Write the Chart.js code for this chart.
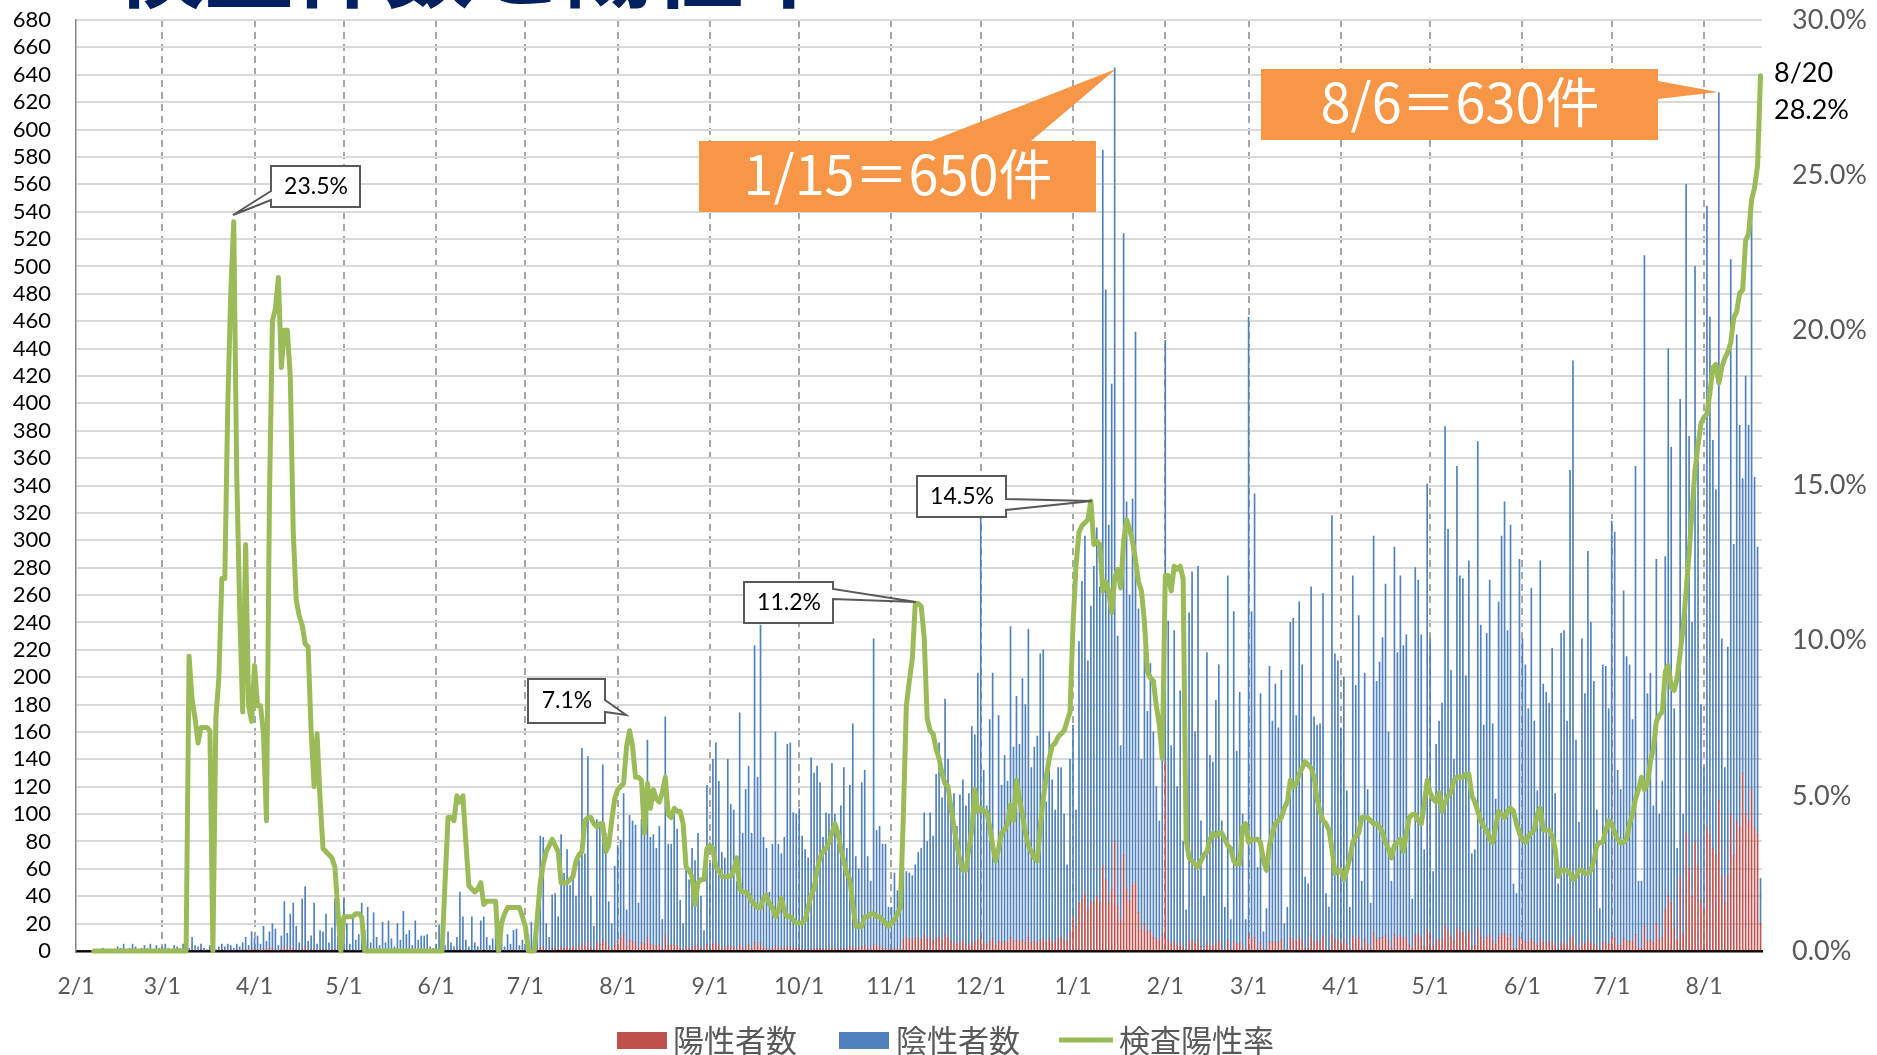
<!DOCTYPE html>
<html><head><meta charset="utf-8">
<script src="https://cdn.jsdelivr.net/npm/chart.js"></script>
<style>html,body{margin:0;padding:0;background:#fff;overflow:hidden}canvas{display:block}</style>
</head><body>
<canvas id="c" width="1877" height="1055"></canvas>
<script>
// ---- DATA (daily, 2020-02-01 .. 2021-08-20) ----
const startDate = [2020, 1, 1]; // 2020-02-01 (UTC, month 0-based)

// 陽性者数 (positives)
const positives = [
/*Feb20*/0,0,0,0,0,0,0,0,0,0,0,0,0,0,0,0,0,0,0,0,0,0,0,0,0,0,0,0,0,
/*Mar20*/0,0,0,0,0,0,0,0,1,0,1,0,0,1,0,0,1,0,0,0,1,1,0,1,0,1,0,1,1,0,2,
/*Apr20*/1,1,0,2,1,2,2,1,0,1,3,1,2,2,1,0,2,3,0,1,2,0,1,1,1,0,1,1,0,1,
/*May20*/1,0,0,1,0,0,1,0,1,0,0,0,0,1,0,0,0,0,0,0,1,0,0,0,0,0,0,0,0,0,0,
/*Jun20*/0,0,1,0,0,0,0,0,1,0,0,0,0,0,0,0,1,0,0,0,0,0,0,0,0,0,1,0,0,0,
/*Jul20*/0,0,1,0,0,2,3,1,0,2,2,1,3,2,3,2,3,1,3,6,3,7,2,1,6,5,8,6,3,1,4,
/*Aug20*/7,9,12,3,8,7,6,2,6,5,10,5,4,4,5,1,11,4,4,5,4,2,1,3,2,3,3,4,2,1,5,
/*Sep20*/2,5,6,4,2,2,4,3,3,1,5,2,3,4,2,6,3,6,2,2,1,2,4,2,2,2,3,3,2,2,
/*Oct20*/2,1,1,1,2,2,2,2,1,2,2,2,2,1,2,2,1,3,3,2,2,3,4,2,1,5,3,3,2,2,1,
/*Nov20*/1,2,2,1,8,10,9,8,9,10,8,12,8,10,7,9,10,8,12,9,7,6,5,6,7,5,4,6,6,8,
/*Dec20*/10,6,5,7,9,4,7,6,7,6,10,7,8,7,8,6,10,6,7,6,8,9,6,9,7,6,9,10,8,7,14,
/*Jan21*/25,18,35,38,42,30,36,36,40,35,62,52,35,45,80,32,22,70,45,36,48,50,28,15,20,14,15,10,9,7,12,
/*Feb21*/138,8,5,7,4,6,3,1,7,8,5,8,3,1,6,4,4,6,7,3,1,8,1,7,5,6,3,1,
/*Mar21*/12,8,10,2,6,1,1,7,6,7,6,8,1,1,9,9,7,10,8,2,2,11,7,6,7,11,2,1,12,8,8,
/*Apr21*/6,8,5,1,11,8,10,2,8,5,1,13,8,9,10,11,7,2,12,9,11,9,10,4,2,12,11,10,3,15,
/*May21*/11,3,7,8,8,18,15,10,7,17,13,13,10,14,3,4,16,10,7,10,11,7,5,10,12,13,9,12,2,2,10,
/*Jun21*/8,7,6,9,6,4,9,6,6,6,7,4,1,6,6,4,9,11,4,2,6,5,8,6,5,3,1,6,6,5,
/*Jul21*/10,9,4,4,9,7,7,6,12,2,2,18,7,8,6,20,8,10,30,40,35,16,8,54,12,86,60,40,80,62,36,
/*Aug21*/30,90,85,75,70,110,55,35,55,100,70,95,90,130,100,95,118,90,85,20
];

// 陰性者数 (negatives)
const negatives = [
/*Feb20*/0,0,0,0,0,0,1,0,0,2,0,0,1,0,3,2,5,1,2,5,3,1,2,4,2,5,1,4,2,
/*Mar20*/3,5,2,1,4,3,2,5,3,2,9,4,3,4,2,1,3,2,1,3,4,2,5,3,2,4,3,5,9,4,12,
/*Apr20*/8,10,5,16,6,12,18,15,4,10,33,12,25,33,17,6,36,44,7,10,33,5,14,13,26,6,16,37,11,20,
/*May20*/37,20,5,24,8,12,34,15,31,6,28,10,4,20,6,22,9,3,20,8,28,12,15,4,22,8,11,11,12,3,2,
/*Jun20*/5,19,17,4,14,6,3,10,42,25,8,3,25,6,3,22,24,10,4,9,24,8,10,3,12,5,14,16,4,8,
/*Jul20*/5,12,20,8,15,82,80,19,10,39,40,24,82,55,71,46,55,39,63,142,68,135,38,17,90,88,128,80,33,19,58,
/*Aug20*/70,72,103,27,91,88,86,33,90,83,144,78,81,71,86,22,160,74,74,95,85,35,19,69,50,72,63,82,38,14,116,
/*Sep20*/62,135,146,120,70,66,136,104,100,50,169,84,115,131,84,217,124,232,81,73,42,76,156,76,69,81,148,149,99,98,
/*Oct20*/102,83,73,67,139,128,133,121,82,99,98,135,98,77,104,132,74,118,163,67,58,120,128,67,50,223,85,88,76,76,31,
/*Nov20*/31,55,42,45,53,48,48,47,54,62,67,89,72,91,77,120,142,104,172,131,99,109,86,108,118,101,111,158,152,195,
/*Dec20*/306,126,101,162,194,70,165,115,136,118,227,142,178,144,191,174,225,128,142,151,209,211,103,151,118,97,125,124,92,56,126,
/*Jan21*/140,85,191,232,261,182,216,245,269,231,523,431,276,369,565,198,128,454,283,224,282,402,222,125,200,161,195,150,111,88,168,
/*Feb21*/308,233,145,227,116,184,77,29,240,269,155,273,92,39,212,139,134,177,202,92,31,266,22,241,141,183,97,22,
/*Mar21*/451,240,324,59,182,13,30,201,162,188,157,197,19,31,231,234,165,245,201,52,47,255,164,159,159,250,40,31,306,209,204,
/*Apr21*/157,192,112,31,263,186,235,49,195,113,34,290,189,202,219,257,153,49,283,209,263,214,221,88,36,268,260,221,71,326,
/*May21*/217,55,144,160,173,365,293,195,133,337,261,259,191,271,68,70,356,228,158,222,260,159,106,245,291,315,225,299,47,40,276,
/*Jun21*/220,202,171,256,162,113,276,189,183,175,214,111,48,226,228,164,342,420,150,92,222,183,284,234,192,100,30,203,202,172,
/*Jul21*/304,297,128,114,254,208,202,163,342,49,49,490,181,195,100,266,92,114,258,400,333,161,67,349,88,474,316,200,420,296,144,
/*Aug21*/104,454,378,298,267,517,173,99,167,405,227,355,294,215,320,289,421,256,210,33
];

// 検査陽性率 (%)
const positivityRate = [
/*Feb20*/null,null,null,null,null,null,0,0,0,0,0,0,0,0,0,0,0,0,0,0,0,0,0,0,0,0,0,0,0,
/*Mar20*/0,0,0,0,0,0,0,0,0,9.5,8.1,7.5,6.7,7.2,7.2,7.2,7.1,0,7.5,8.8,12.0,12.0,17.6,21.2,23.5,15.4,11.0,7.7,13.1,7.9,7.4,
/*Apr20*/9.2,7.9,7.9,7.0,4.2,14.6,20.3,20.7,21.7,18.8,20.0,20.0,18.5,13.5,11.3,10.8,10.5,9.9,9.8,7.1,5.3,7.0,4.9,3.3,3.2,3.1,3.0,2.7,1.3,0,
/*May20*/1.1,1.1,1.1,1.1,1.2,1.2,1.1,0,0,0,0,0,0,0,0,0,0,0,0,0,0,0,0,0,0,0,0,0,0,0,0,
/*Jun20*/0,0,0,2.2,4.3,4.3,4.2,5.0,4.8,5.0,3.5,2.1,2.0,1.9,2.0,2.2,1.5,1.6,1.6,1.6,1.6,0,0.9,1.2,1.4,1.4,1.4,1.4,1.4,1.1,
/*Jul20*/0.8,0,0,0,1.1,2.2,2.8,3.2,3.4,3.6,3.4,3.2,2.2,2.2,2.2,2.3,2.4,2.9,3.1,3.2,4.2,4.3,4.3,4.1,4.0,4.1,4.1,3.2,3.4,4.2,4.9,
/*Aug20*/5.2,5.3,5.4,6.6,7.1,6.6,5.6,5.6,5.5,3.8,5.4,4.6,5.2,4.9,4.8,5.1,5.6,4.4,4.3,4.6,4.5,4.5,4.1,2.7,2.6,2.4,1.5,2.2,2.3,2.3,3.3,
/*Sep20*/3.4,3.3,2.7,2.6,2.4,2.4,2.4,2.4,2.6,3.0,2.0,1.9,1.9,1.8,1.6,1.5,1.4,1.4,1.7,1.8,1.5,1.4,1.1,1.3,1.7,1.3,1.1,1.1,1.0,0.9,
/*Oct20*/0.9,0.9,1.0,1.4,1.8,2.0,2.6,3.0,3.2,3.3,3.5,3.8,4.1,3.8,3.3,2.9,2.5,2.3,1.5,0.8,0.8,0.8,1.1,1.1,1.2,1.2,1.1,1.1,1.0,0.9,0.8,
/*Nov20*/0.9,1.0,1.2,1.4,4.4,7.9,8.7,9.4,11.2,11.2,11.1,10.1,7.5,7.1,7.0,6.5,6.2,5.7,5.4,5.3,4.6,4.0,3.4,2.9,2.6,2.6,3.3,3.9,5.2,4.5,
/*Dec20*/4.6,4.5,4.5,4.0,3.4,2.9,3.3,3.8,3.9,4.1,4.7,4.2,5.5,4.9,4.4,3.8,3.4,3.2,3.0,2.9,4.0,4.9,5.6,6.2,6.6,6.7,6.9,7.0,7.1,7.4,7.7,
/*Jan21*/10.5,12.4,13.5,13.7,13.8,13.9,14.5,13.1,13.2,13.1,11.6,11.9,11.6,10.9,12.0,12.3,11.7,13.2,13.9,13.6,13.2,12.6,11.9,11.6,10.6,9.0,8.8,8.7,7.9,7.3,6.2,
/*Feb21*/12.1,12.1,11.6,12.4,12.3,12.4,12.0,3.6,3.0,2.9,2.8,2.7,2.9,3.1,3.2,3.6,3.8,3.7,3.8,3.8,3.6,3.4,3.3,2.9,2.8,2.8,4.0,4.1,
/*Mar21*/3.5,3.6,3.6,3.6,3.5,2.9,2.6,3.4,3.8,4.1,4.2,4.3,4.6,4.8,5.5,5.3,5.4,5.7,5.9,6.1,6.0,5.9,5.6,4.9,4.5,4.2,4.1,3.9,3.3,2.5,2.6,
/*Apr21*/2.6,2.3,2.6,3.0,3.5,3.7,3.8,4.3,4.3,4.3,4.2,4.1,4.1,4.0,3.8,3.5,3.3,3.0,3.4,3.5,3.6,3.2,3.8,4.3,4.4,4.4,4.2,4.1,4.7,5.5,
/*May21*/5.1,4.9,4.8,5.1,4.5,4.8,5.0,5.1,5.5,5.6,5.6,5.6,5.7,5.7,5.0,4.8,4.5,4.2,4.0,3.9,3.6,3.5,4.0,4.5,4.4,4.3,4.5,4.6,4.5,4.1,3.8,
/*Jun21*/3.6,3.5,3.7,3.8,3.9,4.4,4.6,3.9,3.9,3.9,3.7,3.3,2.4,2.6,2.6,2.6,2.5,2.3,2.4,2.6,2.6,2.5,2.5,2.6,2.9,3.4,3.5,3.5,3.9,4.2,
/*Jul21*/4.1,3.8,3.6,3.5,3.5,3.6,4.1,4.4,4.9,5.2,5.6,5.2,5.4,6.1,6.5,7.4,7.6,7.7,9.0,9.2,8.5,8.4,8.8,9.6,10.4,11.6,12.8,14.2,15.5,16.3,17.0,
/*Aug21*/17.2,17.3,18.0,18.8,18.9,18.3,18.8,19.1,19.3,19.6,20.4,20.6,21.2,21.3,22.9,23.1,24.2,24.6,25.3,28.2
];

const seriesNames = ['陽性者数', '陰性者数', '検査陽性率'];
const titleText = '検査件数と陽性率';
const calloutDays = [53, 186, 282, 341];          // labelled peaks of the rate line
const bigLabels = ['1/15＝650件', '8/6＝630件'];
const endLabel = ['8/20', '28.2%'];

// category labels (M/D) for each day
const categories = negatives.map((_, i) => {
  const d = new Date(Date.UTC(startDate[0], startDate[1], startDate[2]) + i * 86400000);
  return (d.getUTCMonth() + 1) + '/' + d.getUTCDate();
});
const monthStarts = categories.map((c, i) => c.split('/')[1] === '1' ? i : -1).filter(i => i >= 0);
const xy = arr => arr.map((v, i) => ({x: i, y: v}));

const LAT = 'Lato, "Noto Sans", sans-serif';
const JP = '"Noto Sans CJK JP", "Noto Sans", sans-serif';

function poly(ctx, pts) {
  ctx.beginPath();
  pts.forEach((p, i) => i ? ctx.lineTo(p[0], p[1]) : ctx.moveTo(p[0], p[1]));
  ctx.closePath();
}

const decor = {
  id: 'decor',
  afterDraw(chart) {
    const ctx = chart.ctx;
    ctx.save();
    // cut-off title at the very top
    ctx.fillStyle = '#002060';
    ctx.font = 'bold 90px ' + JP;
    ctx.textAlign = 'left';
    ctx.textBaseline = 'alphabetic';
    ctx.fillText(titleText, 114, 0);

    // white callouts for rate peaks
    const boxes = [
      {pts: [[271,166],[360,166],[360,207],[271,207],[271,200],[233,215],[271,191]], tx: 316, ty: 187},
      {pts: [[528,679],[605,679],[605,700],[626,715],[605,712],[605,723],[528,723]], tx: 567, ty: 701},
      {pts: [[744,582],[833,582],[833,589],[916,602],[833,599],[833,623],[744,623]], tx: 789, ty: 603},
      {pts: [[917,476],[1006,476],[1006,499],[1092,501],[1006,510],[1006,517],[917,517]], tx: 962, ty: 497}
    ];
    boxes.forEach((b, k) => {
      poly(ctx, b.pts);
      ctx.fillStyle = '#fff'; ctx.fill();
      ctx.strokeStyle = '#595959'; ctx.lineWidth = 2; ctx.stroke();
      ctx.fillStyle = '#000';
      ctx.font = '23px ' + LAT;
      ctx.textAlign = 'center'; ctx.textBaseline = 'middle';
      ctx.fillText(positivityRate[calloutDays[k]].toFixed(1) + '%', b.tx, b.ty);
    });

    // orange callouts
    ctx.fillStyle = '#F79646';
    poly(ctx, [[699,141],[931,141],[1116,69],[1031,141],[1096,141],[1096,212],[699,212]]);
    ctx.fill();
    poly(ctx, [[1261,69],[1658,69],[1658,81],[1718,92],[1658,99],[1658,140],[1261,140]]);
    ctx.fill();
    ctx.fillStyle = '#fff';
    ctx.font = '54px ' + JP;
    ctx.textAlign = 'center'; ctx.textBaseline = 'middle';
    ctx.fillText(bigLabels[0], 898, 174);
    ctx.fillText(bigLabels[1], 1460, 102);

    // end label
    ctx.fillStyle = '#000';
    ctx.font = '27px ' + LAT;
    ctx.textAlign = 'left';
    ctx.fillText(endLabel[0], 1774, 73);
    ctx.fillText(endLabel[1], 1774, 110);

    // legend
    ctx.font = '31px ' + JP;
    ctx.textBaseline = 'middle';
    ctx.fillStyle = '#C0504D'; ctx.fillRect(617, 1032, 50, 17);
    ctx.fillStyle = '#4F81BD'; ctx.fillRect(839, 1032, 50, 17);
    ctx.strokeStyle = '#9BBB59'; ctx.lineWidth = 5;
    ctx.beginPath(); ctx.moveTo(1059, 1040); ctx.lineTo(1113, 1040); ctx.stroke();
    ctx.fillStyle = '#595959';
    ctx.fillText(seriesNames[0], 673, 1040);
    ctx.fillText(seriesNames[1], 896, 1040);
    ctx.fillText(seriesNames[2], 1119, 1040);
    ctx.restore();
  }
};

const noVPad = s => { s.paddingTop = 0; s.paddingBottom = 0; };

new Chart(document.getElementById('c'), {
  type: 'bar',
  data: {
    datasets: [
      {type: 'line', label: seriesNames[2], data: xy(positivityRate), yAxisID: 'y2', borderColor: '#9BBB59',
       borderWidth: 5, pointRadius: 0, tension: 0, order: 0, clip: false, spanGaps: false,
       borderJoinStyle: 'round', borderCapStyle: 'round'},
      {label: seriesNames[0], data: xy(positives), backgroundColor: '#C0504D', yAxisID: 'y', stack: 's', barThickness: 1, order: 1},
      {label: seriesNames[1], data: xy(negatives), backgroundColor: '#4F81BD', yAxisID: 'y', stack: 's', barThickness: 1, order: 1}
    ]
  },
  options: {
    responsive: false, animation: false, devicePixelRatio: 1,
    layout: {padding: {top: 20, left: 0, right: 0, bottom: 0}},
    plugins: {legend: {display: false}, tooltip: {enabled: false}},
    scales: {
      x: {
        type: 'linear', stacked: true, min: 0, max: 566.5, offset: false,
        afterBuildTicks: s => { s.ticks = monthStarts.map(v => ({value: v})); },
        afterFit: s => { s.height = 104; },
        ticks: {autoSkip: false, maxRotation: 0, minRotation: 0, padding: 22, color: '#595959',
                font: {family: LAT, size: 23}, callback: v => categories[v]},
        grid: {drawTicks: false, offset: false, lineWidth: 2,
               color: c => (c.tick && c.tick.value === 0) ? 'rgba(0,0,0,0)' : '#A6A6A6'},
        border: {display: true, color: '#000', width: 2.5, dash: [7, 5]}
      },
      y: {
        position: 'left', stacked: true, min: 0, max: 680,
        afterFit: s => { s.width = 76; noVPad(s); },
        ticks: {stepSize: 20, autoSkip: false, padding: 25, color: '#000', font: {family: LAT, size: 22}},
        grid: {drawTicks: false, lineWidth: 2,
               color: c => (c.tick && c.tick.value === 0) ? 'rgba(0,0,0,0)' : '#D9D9D9'},
        border: {display: true, color: '#868686', width: 1.5}
      },
      y2: {
        position: 'right', min: 0, max: 30,
        afterFit: s => { s.width = 115; noVPad(s); },
        ticks: {stepSize: 5, autoSkip: false, padding: 30, color: '#595959', font: {family: LAT, size: 27},
                callback: v => v.toFixed(1) + '%'},
        grid: {drawOnChartArea: false, drawTicks: false},
        border: {display: false}
      }
    }
  },
  plugins: [decor]
});
</script>
</body></html>
